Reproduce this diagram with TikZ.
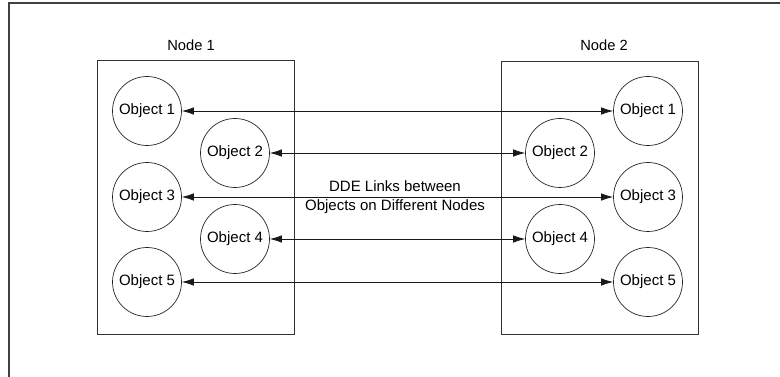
\documentclass[tikz,border=0pt]{standalone}
\usepackage{fontspec}
\setmainfont{Liberation Sans}
\usetikzlibrary{arrows.meta}
\begin{document}
\begin{tikzpicture}[x=1pt,y=-1pt,
  frameline/.style={draw=black!75, line width=1.4pt},
  nodebox/.style={draw=black!80, line width=0.9pt},
  obj/.style={circle, draw=black!85, line width=0.7pt, minimum size=69pt, inner sep=0pt, font=\fontsize{15}{16}\selectfont},
  lbl/.style={font=\fontsize{14.7}{16}\selectfont, inner sep=0pt},
  link/.style={draw=black!90, line width=0.7pt, {Latex[length=12pt,width=7.5pt]}-{Latex[length=12pt,width=7.5pt]}}
]
\useasboundingbox (0,0) rectangle (780,377);
\coordinate (fa) at (9,377);
\coordinate (fb) at (9,3);
\coordinate (fc) at (780,3);
\draw[frameline] (fa) -- (fb) -- (fc);

\node[nodebox, minimum width=197pt, minimum height=274pt, inner sep=0pt] (box1) at (195.5,197) {};
\node[nodebox, minimum width=197pt, minimum height=273pt, inner sep=0pt] (box2) at (599.5,197.5) {};
\node[lbl] (n1) at (191,45) {Node 1};
\node[lbl] (n2) at (604,45) {Node 2};

\node[obj] (l1) at (147,111) {Object 1};
\node[obj] (l2) at (235,153) {Object 2};
\node[obj] (l3) at (147,197) {Object 3};
\node[obj] (l4) at (235,239) {Object 4};
\node[obj] (l5) at (147,282) {Object 5};

\node[obj] (r1) at (648,111) {Object 1};
\node[obj] (r2) at (560,153) {Object 2};
\node[obj] (r3) at (648,197) {Object 3};
\node[obj] (r4) at (560,239) {Object 4};
\node[obj] (r5) at (648,282) {Object 5};

\draw[link] (l1) -- (r1);
\draw[link] (l2) -- (r2);
\draw[link] (l3) -- (r3);
\draw[link] (l4) -- (r4);
\draw[link] (l5) -- (r5);

\node[lbl, align=center, font=\fontsize{15}{19}\selectfont] (dde) at (395,197.5) {DDE Links between\\Objects on Different Nodes};
\end{tikzpicture}
\end{document}
